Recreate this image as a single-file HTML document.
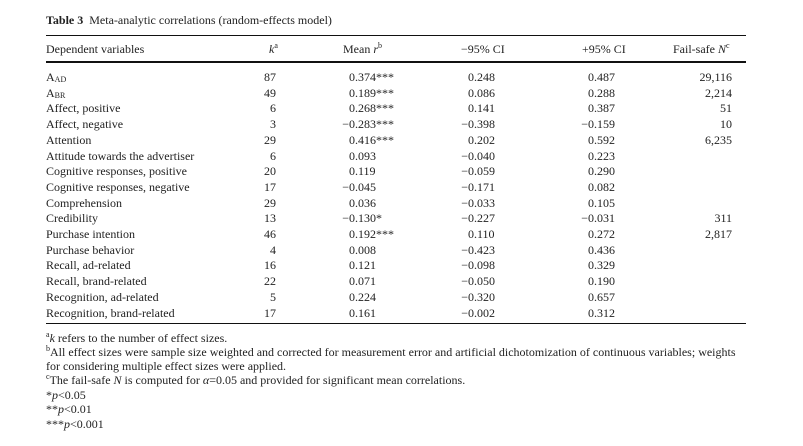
<!DOCTYPE html>
<html><head><meta charset="utf-8"><style>
body{margin:0;background:#fff;width:803px;height:446px;position:relative;overflow:hidden;font-family:"Liberation Serif",serif;color:#222;font-size:12px}
.t{position:absolute;white-space:nowrap;line-height:14px}
.r{text-align:right}
.l{position:absolute;left:46px;width:700px;background:#111}
sub,sup{font-size:8px;line-height:0}
sub{vertical-align:-1px}
.m{position:absolute;right:100%}
</style></head><body>
<div class="t" style="left:46px;top:13px"><b>Table 3</b>&nbsp; Meta-analytic correlations (random-effects model)</div>
<div class="l" style="top:35px;height:1px"></div>
<div class="t" style="left:46px;top:42px">Dependent variables</div>
<div class="t" style="left:269px;top:42px"><i>k</i><sup>a</sup></div>
<div class="t" style="left:343px;top:42px">Mean <i>r</i><sup>b</sup></div>
<div class="t" style="left:461px;top:42px">−95% CI</div>
<div class="t" style="left:582px;top:42px">+95% CI</div>
<div class="t" style="left:673px;top:42px">Fail-safe <i>N</i><sup>c</sup></div>
<div class="l" style="top:61px;height:2px"></div>
<div id="rows"></div>
<div class="l" style="top:323px;height:1px"></div>
<div class="t" style="left:46px;top:331px"><sup>a</sup><i>k</i> refers to the number of effect sizes.</div>
<div class="t" style="left:46px;top:345px"><sup>b</sup>All effect sizes were sample size weighted and corrected for measurement error and artificial dichotomization of continuous variables; weights</div>
<div class="t" style="left:46px;top:359px">for considering multiple effect sizes were applied.</div>
<div class="t" style="left:46px;top:373px"><sup>c</sup>The fail-safe <i>N</i> is computed for <i>α</i>=0.05 and provided for significant mean correlations.</div>
<div class="t" style="left:46px;top:388px">*<i>p</i>&lt;0.05</div>
<div class="t" style="left:46px;top:402px">**<i>p</i>&lt;0.01</div>
<div class="t" style="left:46px;top:417px">***<i>p</i>&lt;0.001</div>
<script>
var d=[["A<sub>AD</sub>","87","0.374***","0.248","0.487","29,116"],
["A<sub>BR</sub>","49","0.189***","0.086","0.288","2,214"],
["Affect, positive","6","0.268***","0.141","0.387","51"],
["Affect, negative","3","−0.283***","−0.398","−0.159","10"],
["Attention","29","0.416***","0.202","0.592","6,235"],
["Attitude towards the advertiser","6","0.093","−0.040","0.223",""],
["Cognitive responses, positive","20","0.119","−0.059","0.290",""],
["Cognitive responses, negative","17","−0.045","−0.171","0.082",""],
["Comprehension","29","0.036","−0.033","0.105",""],
["Credibility","13","−0.130*","−0.227","−0.031","311"],
["Purchase intention","46","0.192***","0.110","0.272","2,817"],
["Purchase behavior","4","0.008","−0.423","0.436",""],
["Recall, ad-related","16","0.121","−0.098","0.329",""],
["Recall, brand-related","22","0.071","−0.050","0.190",""],
["Recognition, ad-related","5","0.224","−0.320","0.657",""],
["Recognition, brand-related","17","0.161","−0.002","0.312",""]];
function num(s,x,y){var n=s[0]=="−";var v=n?s.slice(1):s;return '<div class="t" style="left:'+x+'px;top:'+y+'px">'+(n?'<span class="m">−</span>':'')+v+'</div>';}
var h="";d.forEach(function(r,i){var y=70+i*15.7;
h+='<div class="t" style="left:46px;top:'+y+'px">'+r[0]+'</div>';
h+='<div class="t r" style="left:236px;width:40px;top:'+y+'px">'+r[1]+'</div>';
h+=num(r[2],349,y)+num(r[3],468,y)+num(r[4],588,y);
h+='<div class="t r" style="left:672px;width:60px;top:'+y+'px">'+r[5]+'</div>';});
document.getElementById("rows").innerHTML=h;
</script>
</body></html>
